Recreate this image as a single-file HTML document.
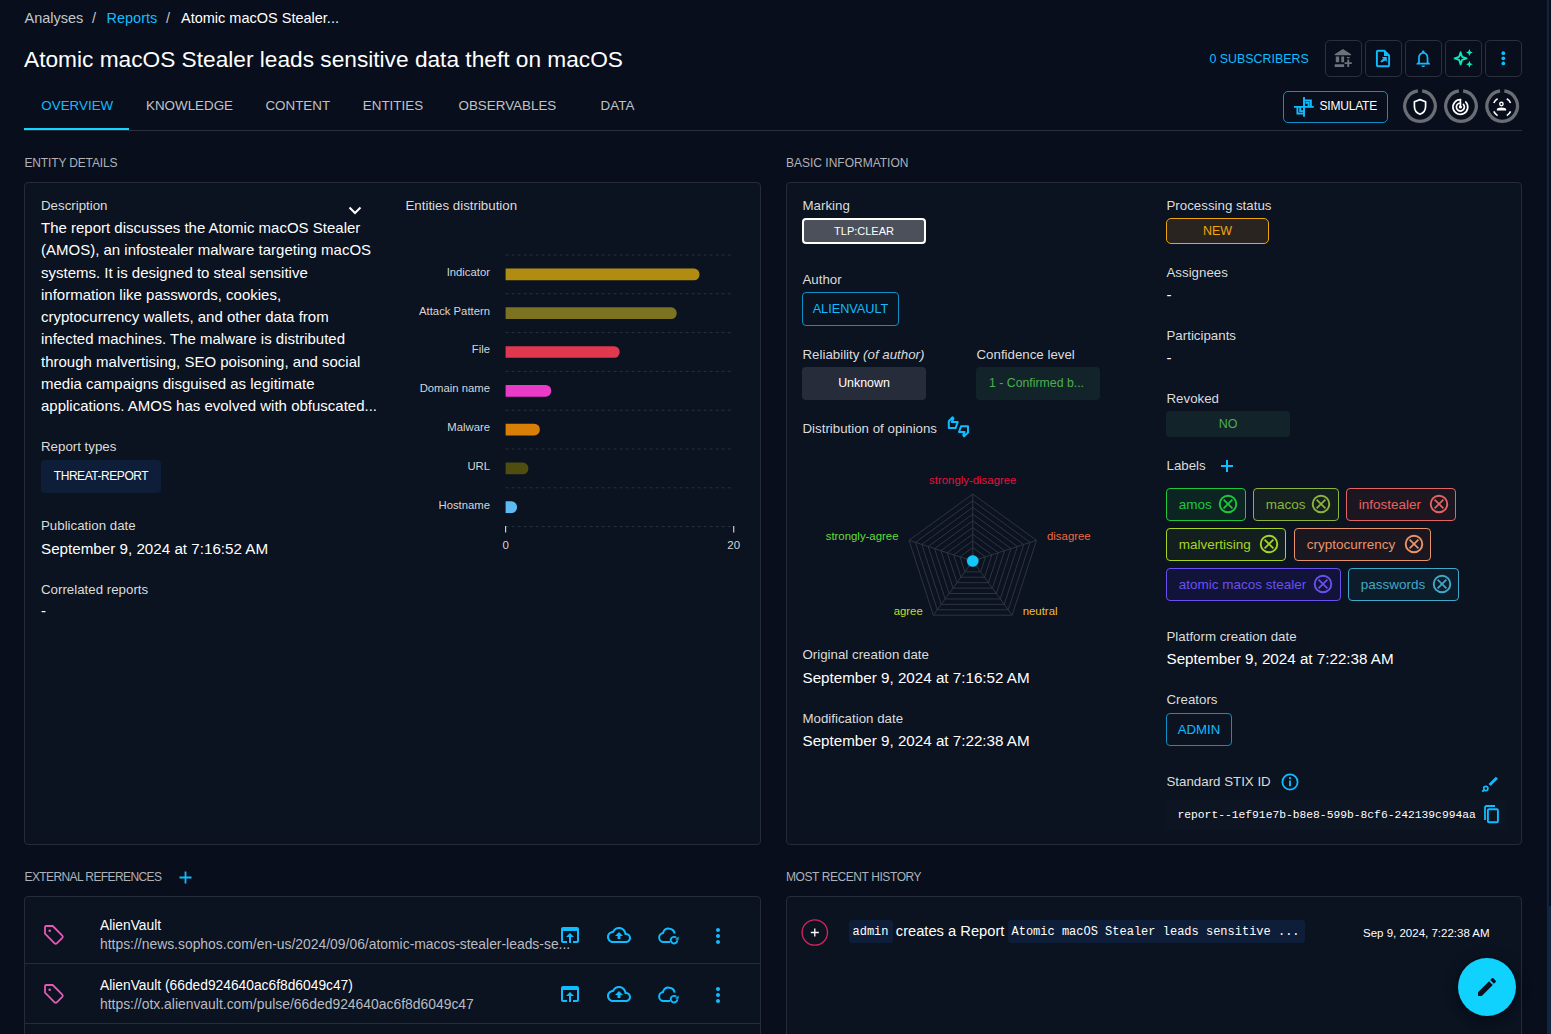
<!DOCTYPE html>
<html><head><meta charset="utf-8"><title>Atomic macOS Stealer leads sensitive data theft on macOS</title>
<style>
html,body{margin:0;padding:0;}
body{width:1551px;height:1034px;overflow:hidden;position:relative;background:#080e1b;font-family:'Liberation Sans', sans-serif;}
.t{position:absolute;white-space:nowrap;line-height:1;}
.b{position:absolute;}
svg.b{overflow:visible;}
</style></head><body>
<div class="t" style="left:24.50px;top:11.00px;font-size:14.5px;color:#c4c6cb;font-family:'Liberation Sans', sans-serif;">Analyses</div>
<div class="t" style="left:92.00px;top:11.00px;font-size:14.5px;color:#c4c6cb;font-family:'Liberation Sans', sans-serif;">/</div>
<div class="t" style="left:106.50px;top:11.00px;font-size:14.5px;color:#0fbcff;font-family:'Liberation Sans', sans-serif;">Reports</div>
<div class="t" style="left:166.00px;top:11.00px;font-size:14.5px;color:#c4c6cb;font-family:'Liberation Sans', sans-serif;">/</div>
<div class="t" style="left:181.00px;top:11.00px;font-size:14.5px;color:#ffffff;font-family:'Liberation Sans', sans-serif;">Atomic macOS Stealer...</div>
<div class="t" style="left:24.00px;top:48.00px;font-size:22.7px;color:#ffffff;font-family:'Liberation Sans', sans-serif;">Atomic macOS Stealer leads sensitive data theft on macOS</div>
<div class="t" style="left:41.30px;top:99.00px;font-size:13.4px;color:#0fbcff;font-family:'Liberation Sans', sans-serif;">OVERVIEW</div>
<div class="t" style="left:146.00px;top:99.00px;font-size:13.4px;color:#c0c3c8;font-family:'Liberation Sans', sans-serif;">KNOWLEDGE</div>
<div class="t" style="left:265.40px;top:99.00px;font-size:13.4px;color:#c0c3c8;font-family:'Liberation Sans', sans-serif;">CONTENT</div>
<div class="t" style="left:362.80px;top:99.00px;font-size:13.4px;color:#c0c3c8;font-family:'Liberation Sans', sans-serif;">ENTITIES</div>
<div class="t" style="left:458.50px;top:99.00px;font-size:13.4px;color:#c0c3c8;font-family:'Liberation Sans', sans-serif;">OBSERVABLES</div>
<div class="t" style="left:600.60px;top:99.00px;font-size:13.4px;color:#c0c3c8;font-family:'Liberation Sans', sans-serif;">DATA</div>
<div class="b" style="left:24px;top:130px;width:1498px;height:1px;background:#2a303c"></div>
<div class="b" style="left:24px;top:128px;width:105px;height:2px;background:#10d6ff"></div>
<div class="t" style="left:1209.50px;top:53.00px;font-size:12.4px;color:#0fbcff;font-family:'Liberation Sans', sans-serif;">0 SUBSCRIBERS</div>
<div class="b" style="left:1325px;top:40px;width:36.5px;height:36.5px;border:1px solid #2a303c;border-radius:5px;box-sizing:border-box"></div>
<div class="b" style="left:1365px;top:40px;width:36.5px;height:36.5px;border:1px solid #2a303c;border-radius:5px;box-sizing:border-box"></div>
<div class="b" style="left:1405px;top:40px;width:36.5px;height:36.5px;border:1px solid #2a303c;border-radius:5px;box-sizing:border-box"></div>
<div class="b" style="left:1445px;top:40px;width:36.5px;height:36.5px;border:1px solid #2a303c;border-radius:5px;box-sizing:border-box"></div>
<div class="b" style="left:1485px;top:40px;width:36.5px;height:36.5px;border:1px solid #2a303c;border-radius:5px;box-sizing:border-box"></div>
<svg class="b" style="left:0;top:0" width="1551" height="80"><path fill="#6e727b" d="M1342.9 48.9 1334.7 54.2V55.2H1351.1V54.2Z M1335.8 56.6h3.4v5.6h-3.4z M1341.3 56.6h2.8v5.6h-2.8z M1334.7 64.2h9.5v2.9h-9.5z M1346.9 56.9h2.8v1.3h-2.8z M1347.3 59.5h1.9v2.7h2.6v1.9h-2.6v2.8h-1.9v-2.8h-2.7v-1.9h2.7z"/><path fill="none" stroke="#0fbcff" stroke-width="1.9" stroke-linejoin="round" d="M1377.9 50.8H1384.6L1389.1 55.3V65.2A1 1 0 0 1 1388.1 66.2H1377.9A1 1 0 0 1 1376.9 65.2V51.8A1 1 0 0 1 1377.9 50.8Z"/><path fill="#0fbcff" d="M1384 50.5 1389.5 56H1384Z"/><path fill="#0fbcff" d="M1381.5 62.6 1380.3 61.4 1383.3 58.4 1381.8 56.9H1386.8V61.9L1385.3 60.4Z"/><g transform="translate(1413 48.3) scale(0.854)"><path fill="#0fbcff" d="M12 22c1.1 0 2-.9 2-2h-4c0 1.1.89 2 2 2zm6-6v-5c0-3.07-1.64-5.64-4.5-6.32V4c0-.83-.67-1.5-1.5-1.5s-1.5.67-1.5 1.5v.68C7.63 5.36 6 7.92 6 11v5l-2 2v1h16v-1l-2-2zm-2 1H8v-6c0-2.48 1.51-4.5 4-4.5s4 2.02 4 4.5v6z"/></g><path fill="none" stroke="#00f1bd" stroke-width="1.8" stroke-linejoin="round" d="M1460.6 52.2 1462.1 56.8 1466.6 58.3 1462.1 59.8 1460.6 64.4 1459.1 59.8 1454.6 58.3 1459.1 56.8Z"/><path fill="#00f1bd" d="M1469.4 48.9 1470.4 51.4 1472.8 52.4 1470.4 53.4 1469.4 55.9 1468.4 53.4 1466 52.4 1468.4 51.4Z M1469.4 60.8 1470.4 63.3 1472.8 64.3 1470.4 65.3 1469.4 67.8 1468.4 65.3 1466 64.3 1468.4 63.3Z"/><g fill="#0fbcff"><circle cx="1503.3" cy="53.2" r="1.85"/><circle cx="1503.3" cy="58.3" r="1.85"/><circle cx="1503.3" cy="63.4" r="1.85"/></g></svg>
<div class="b" style="left:1283px;top:91px;width:105px;height:31.5px;border:1px solid #0c8fc4;border-radius:5px;box-sizing:border-box"></div>
<svg class="b" style="left:1288px;top:92px;" width="32" height="30" viewBox="0 0 32 30"><g fill="none" stroke="#0fbcff" stroke-width="1.9"><path d="M16 5v19.8M6 14.9h19.8M16 8.4H22.9V14.9M17.4 10.7H20.6V14.9M9.4 14.9V21.5H16M12.2 14.9V19.1H16"/></g></svg>
<div class="t" style="left:1319.50px;top:100.00px;font-size:12px;color:#ffffff;font-family:'Liberation Sans', sans-serif;letter-spacing:-0.2px">SIMULATE</div>
<svg class="b" style="left:0;top:0" width="1551" height="140"><path d="M1422.13 90.85 A15.3 15.3 0 1 1 1417.87 90.85" fill="none" stroke="#6a6d74" stroke-width="3.3"/><path fill="none" stroke="#fff" stroke-width="1.7" stroke-linejoin="round" d="M1420 99.6 1425.6 101.8V106.3C1425.6 110 1423.2 113.2 1420 114.3 1416.8 113.2 1414.4 110 1414.4 106.3V101.8Z"/></svg>
<svg class="b" style="left:0;top:0" width="1551" height="140"><path d="M1463.13 90.85 A15.3 15.3 0 1 1 1458.87 90.85" fill="none" stroke="#6a6d74" stroke-width="3.3"/><g fill="none" stroke="#fff" stroke-width="1.7" stroke-linecap="round"><path d="M1460.4 99.6A7.4 7.4 0 1 0 1465.8 102"/><path d="M1460.4 103A4 4 0 1 0 1463.4 104.4"/><path d="M1460.4 107V99.6"/></g><circle cx="1460.4" cy="107" r="1.6" fill="#fff"/></svg>
<svg class="b" style="left:0;top:0" width="1551" height="140"><path d="M1504.33 90.85 A15.3 15.3 0 1 1 1500.07 90.85" fill="none" stroke="#6a6d74" stroke-width="3.3"/><g fill="none" stroke="#fff" stroke-width="1.6" stroke-linecap="butt"><path d="M1493.8 103A9 9 0 0 1 1497.6 98.8M1506.8 98.8A9 9 0 0 1 1510.6 103M1510.6 111.4A9 9 0 0 1 1506.8 115.6M1497.6 115.6A9 9 0 0 1 1493.8 111.4"/></g><circle cx="1501.4" cy="104" r="1.7" fill="none" stroke="#fff" stroke-width="1.4"/><path d="M1496.8 110.6h9.4v-1.2c0-1.3-1.6-2-4.7-2s-4.7.7-4.7 2z" fill="#fff"/></svg>
<div class="t" style="left:24.50px;top:157.00px;font-size:12px;color:#afb2b8;font-family:'Liberation Sans', sans-serif;letter-spacing:-0.15px">ENTITY DETAILS</div>
<div class="t" style="left:786.00px;top:157.00px;font-size:12px;color:#afb2b8;font-family:'Liberation Sans', sans-serif;">BASIC INFORMATION</div>
<div class="t" style="left:24.50px;top:871.00px;font-size:12px;color:#afb2b8;font-family:'Liberation Sans', sans-serif;letter-spacing:-0.6px">EXTERNAL REFERENCES</div>
<div class="t" style="left:786.00px;top:871.00px;font-size:12px;color:#afb2b8;font-family:'Liberation Sans', sans-serif;letter-spacing:-0.42px">MOST RECENT HISTORY</div>
<div class="b" style="left:24px;top:182px;width:737px;height:663px;background:#0b1220;border:1px solid #252b39;border-radius:4px;box-sizing:border-box"></div>
<div class="b" style="left:786px;top:182px;width:736px;height:663px;background:#0b1220;border:1px solid #252b39;border-radius:4px;box-sizing:border-box"></div>
<div class="b" style="left:24px;top:896px;width:737px;height:160px;background:#0b1220;border:1px solid #252b39;border-radius:4px;box-sizing:border-box"></div>
<div class="b" style="left:786px;top:896px;width:736px;height:160px;background:#0b1220;border:1px solid #252b39;border-radius:4px;box-sizing:border-box"></div>
<div class="t" style="left:41.00px;top:199.00px;font-size:13.3px;color:#dcdcdc;font-family:'Liberation Sans', sans-serif;">Description</div>
<svg class="b" style="left:345px;top:200px;" width="20" height="20" viewBox="0 0 20 20"><path d="M4.5 7.5 10 13l5.5-5.5" fill="none" stroke="#fff" stroke-width="2"/></svg>
<div class="t" style="left:41.00px;top:220.00px;font-size:15px;color:#ffffff;font-family:'Liberation Sans', sans-serif;">The report discusses the Atomic macOS Stealer</div>
<div class="t" style="left:41.00px;top:242.00px;font-size:15px;color:#ffffff;font-family:'Liberation Sans', sans-serif;">(AMOS), an infostealer malware targeting macOS</div>
<div class="t" style="left:41.00px;top:265.00px;font-size:15px;color:#ffffff;font-family:'Liberation Sans', sans-serif;">systems. It is designed to steal sensitive</div>
<div class="t" style="left:41.00px;top:287.00px;font-size:15px;color:#ffffff;font-family:'Liberation Sans', sans-serif;">information like passwords, cookies,</div>
<div class="t" style="left:41.00px;top:309.00px;font-size:15px;color:#ffffff;font-family:'Liberation Sans', sans-serif;">cryptocurrency wallets, and other data from</div>
<div class="t" style="left:41.00px;top:331.00px;font-size:15px;color:#ffffff;font-family:'Liberation Sans', sans-serif;">infected machines. The malware is distributed</div>
<div class="t" style="left:41.00px;top:354.00px;font-size:15px;color:#ffffff;font-family:'Liberation Sans', sans-serif;">through malvertising, SEO poisoning, and social</div>
<div class="t" style="left:41.00px;top:376.00px;font-size:15px;color:#ffffff;font-family:'Liberation Sans', sans-serif;">media campaigns disguised as legitimate</div>
<div class="t" style="left:41.00px;top:398.00px;font-size:15px;color:#ffffff;font-family:'Liberation Sans', sans-serif;">applications. AMOS has evolved with obfuscated...</div>
<div class="t" style="left:41.00px;top:440.00px;font-size:13.3px;color:#dcdcdc;font-family:'Liberation Sans', sans-serif;">Report types</div>
<div class="b" style="left:41px;top:460px;width:120px;height:33px;background:#0f1e38;border-radius:4px"></div>
<div class="t" style="left:101.00px;transform:translateX(-50%);top:470.00px;font-size:12px;color:#ffffff;font-family:'Liberation Sans', sans-serif;letter-spacing:-0.45px">THREAT-REPORT</div>
<div class="t" style="left:41.00px;top:519.00px;font-size:13.3px;color:#dcdcdc;font-family:'Liberation Sans', sans-serif;">Publication date</div>
<div class="t" style="left:41.00px;top:541.00px;font-size:15.2px;color:#ffffff;font-family:'Liberation Sans', sans-serif;">September 9, 2024 at 7:16:52 AM</div>
<div class="t" style="left:41.00px;top:583.00px;font-size:13.3px;color:#dcdcdc;font-family:'Liberation Sans', sans-serif;">Correlated reports</div>
<div class="t" style="left:41.00px;top:603.00px;font-size:15px;color:#ffffff;font-family:'Liberation Sans', sans-serif;">-</div>
<div class="t" style="left:405.50px;top:199.00px;font-size:13.3px;color:#dcdcdc;font-family:'Liberation Sans', sans-serif;">Entities distribution</div>
<svg class="b" style="left:0;top:0" width="800" height="600"><line x1="505.6" y1="255.0" x2="732" y2="255.0" stroke="#2b313d" stroke-width="1" stroke-dasharray="3 3"/><line x1="505.6" y1="293.8" x2="732" y2="293.8" stroke="#2b313d" stroke-width="1" stroke-dasharray="3 3"/><line x1="505.6" y1="332.6" x2="732" y2="332.6" stroke="#2b313d" stroke-width="1" stroke-dasharray="3 3"/><line x1="505.6" y1="371.4" x2="732" y2="371.4" stroke="#2b313d" stroke-width="1" stroke-dasharray="3 3"/><line x1="505.6" y1="410.2" x2="732" y2="410.2" stroke="#2b313d" stroke-width="1" stroke-dasharray="3 3"/><line x1="505.6" y1="449.0" x2="732" y2="449.0" stroke="#2b313d" stroke-width="1" stroke-dasharray="3 3"/><line x1="505.6" y1="487.8" x2="732" y2="487.8" stroke="#2b313d" stroke-width="1" stroke-dasharray="3 3"/><line x1="505.6" y1="526.6" x2="732" y2="526.6" stroke="#2b313d" stroke-width="1" stroke-dasharray="3 3"/><path d="M505.6 268.55H693.99A5.5 5.5 0 0 1 699.49 274.05V274.75A5.5 5.5 0 0 1 693.99 280.25H505.6Z" fill="#b08d10"/><path d="M505.6 307.35H671.18A5.5 5.5 0 0 1 676.68 312.85V313.55A5.5 5.5 0 0 1 671.18 319.05H505.6Z" fill="#7d721f"/><path d="M505.6 346.15H614.15A5.5 5.5 0 0 1 619.65 351.65V352.35A5.5 5.5 0 0 1 614.15 357.85H505.6Z" fill="#e0394f"/><path d="M505.6 384.95H545.72A5.5 5.5 0 0 1 551.22 390.45V391.15A5.5 5.5 0 0 1 545.72 396.65H505.6Z" fill="#e93ac8"/><path d="M505.6 423.75H534.32A5.5 5.5 0 0 1 539.82 429.25V429.95A5.5 5.5 0 0 1 534.32 435.45H505.6Z" fill="#d97f08"/><path d="M505.6 462.55H522.91A5.5 5.5 0 0 1 528.41 468.05V468.75A5.5 5.5 0 0 1 522.91 474.25H505.6Z" fill="#4f4d0f"/><path d="M505.6 501.35H511.50A5.5 5.5 0 0 1 517.00 506.85V507.55A5.5 5.5 0 0 1 511.50 513.05H505.6Z" fill="#5cbcf2"/><line x1="505.6" y1="526" x2="505.6" y2="532.5" stroke="#ccc" stroke-width="1.2"/><line x1="733.7" y1="526" x2="733.7" y2="532.5" stroke="#ccc" stroke-width="1.2"/></svg>
<div class="t" style="left:490.00px;transform:translateX(-100%);top:267.00px;font-size:11.3px;color:#d4d6da;font-family:'Liberation Sans', sans-serif;">Indicator</div>
<div class="t" style="left:490.00px;transform:translateX(-100%);top:306.00px;font-size:11.3px;color:#d4d6da;font-family:'Liberation Sans', sans-serif;">Attack Pattern</div>
<div class="t" style="left:490.00px;transform:translateX(-100%);top:344.00px;font-size:11.3px;color:#d4d6da;font-family:'Liberation Sans', sans-serif;">File</div>
<div class="t" style="left:490.00px;transform:translateX(-100%);top:383.00px;font-size:11.3px;color:#d4d6da;font-family:'Liberation Sans', sans-serif;">Domain name</div>
<div class="t" style="left:490.00px;transform:translateX(-100%);top:422.00px;font-size:11.3px;color:#d4d6da;font-family:'Liberation Sans', sans-serif;">Malware</div>
<div class="t" style="left:490.00px;transform:translateX(-100%);top:461.00px;font-size:11.3px;color:#d4d6da;font-family:'Liberation Sans', sans-serif;">URL</div>
<div class="t" style="left:490.00px;transform:translateX(-100%);top:500.00px;font-size:11.3px;color:#d4d6da;font-family:'Liberation Sans', sans-serif;">Hostname</div>
<div class="t" style="left:505.60px;transform:translateX(-50%);top:540.00px;font-size:11.5px;color:#d4d6da;font-family:'Liberation Sans', sans-serif;">0</div>
<div class="t" style="left:733.70px;transform:translateX(-50%);top:540.00px;font-size:11.5px;color:#d4d6da;font-family:'Liberation Sans', sans-serif;">20</div>
<div class="t" style="left:802.50px;top:199.00px;font-size:13.3px;color:#dcdcdc;font-family:'Liberation Sans', sans-serif;">Marking</div>
<div class="b" style="left:802px;top:218px;width:124px;height:26px;background:#4b505b;border:2px solid #fff;border-radius:4px;box-sizing:border-box"></div>
<div class="t" style="left:864.00px;transform:translateX(-50%);top:226.00px;font-size:11px;color:#ffffff;font-family:'Liberation Sans', sans-serif;">TLP:CLEAR</div>
<div class="t" style="left:802.50px;top:273.00px;font-size:13.3px;color:#dcdcdc;font-family:'Liberation Sans', sans-serif;">Author</div>
<div class="b" style="left:802px;top:292px;width:97px;height:33.5px;border:1px solid #0c8fc4;border-radius:4px;box-sizing:border-box"></div>
<div class="t" style="left:850.50px;transform:translateX(-50%);top:303.00px;font-size:12.7px;color:#0fbcff;font-family:'Liberation Sans', sans-serif;">ALIENVAULT</div>
<div class="t" style="left:802.50px;top:348.00px;font-size:13.3px;color:#dcdcdc;font-family:'Liberation Sans', sans-serif;">Reliability <i>(of author)</i></div>
<div class="t" style="left:976.50px;top:348.00px;font-size:13.3px;color:#dcdcdc;font-family:'Liberation Sans', sans-serif;">Confidence level</div>
<div class="b" style="left:802px;top:367px;width:124px;height:33px;background:#272c3a;border-radius:4px"></div>
<div class="t" style="left:864.00px;transform:translateX(-50%);top:377.00px;font-size:12.4px;color:#ffffff;font-family:'Liberation Sans', sans-serif;">Unknown</div>
<div class="b" style="left:976px;top:367px;width:124px;height:33px;background:#13232a;border-radius:4px"></div>
<div class="t" style="left:1036.50px;transform:translateX(-50%);top:377.00px;font-size:12.3px;color:#4caf50;font-family:'Liberation Sans', sans-serif;">1 - Confirmed b...</div>
<div class="t" style="left:802.50px;top:422.00px;font-size:13.3px;color:#dcdcdc;font-family:'Liberation Sans', sans-serif;">Distribution of opinions</div>
<svg class="b" style="left:942px;top:412px;" width="32" height="30" viewBox="0 0 32 30"><g fill="none" stroke="#0fbcff" stroke-width="2" stroke-linejoin="round"><path d="M6.8 16.1V9.3L10.6 5.2 11.5 6.5 9.8 10H15.7L13.6 16.1Z"/><path d="M26 14.2V20.5L22 24.4 21.2 23 22.6 20H17L19.1 14.2Z"/></g></svg>
<svg class="b" style="left:0;top:0" width="1200" height="700"><polygon points="972.75,554.30 979.12,558.93 976.69,566.42 968.81,566.42 966.38,558.93" fill="none" stroke="#2e3440" stroke-width="1"/><polygon points="972.75,547.60 985.49,556.86 980.63,571.84 964.87,571.84 960.01,556.86" fill="none" stroke="#2e3440" stroke-width="1"/><polygon points="972.75,540.90 991.87,554.79 984.56,577.26 960.94,577.26 953.63,554.79" fill="none" stroke="#2e3440" stroke-width="1"/><polygon points="972.75,534.20 998.24,552.72 988.50,582.68 957.00,582.68 947.26,552.72" fill="none" stroke="#2e3440" stroke-width="1"/><polygon points="972.75,527.50 1004.61,550.65 992.44,588.10 953.06,588.10 940.89,550.65" fill="none" stroke="#2e3440" stroke-width="1"/><polygon points="972.75,520.80 1010.98,548.58 996.38,593.52 949.12,593.52 934.52,548.58" fill="none" stroke="#2e3440" stroke-width="1"/><polygon points="972.75,514.10 1017.35,546.51 1000.32,598.94 945.18,598.94 928.15,546.51" fill="none" stroke="#2e3440" stroke-width="1"/><polygon points="972.75,507.40 1023.73,544.44 1004.26,604.36 941.24,604.36 921.77,544.44" fill="none" stroke="#2e3440" stroke-width="1"/><polygon points="972.75,500.70 1030.10,542.37 1008.19,609.78 937.31,609.78 915.40,542.37" fill="none" stroke="#2e3440" stroke-width="1"/><polygon points="972.75,494.00 1036.47,540.30 1012.13,615.20 933.37,615.20 909.03,540.30" fill="none" stroke="#2e3440" stroke-width="1"/><line x1="972.75" y1="561" x2="972.75" y2="494.00" stroke="#2e3440" stroke-width="1"/><line x1="972.75" y1="561" x2="1036.47" y2="540.30" stroke="#2e3440" stroke-width="1"/><line x1="972.75" y1="561" x2="1012.13" y2="615.20" stroke="#2e3440" stroke-width="1"/><line x1="972.75" y1="561" x2="933.37" y2="615.20" stroke="#2e3440" stroke-width="1"/><line x1="972.75" y1="561" x2="909.03" y2="540.30" stroke="#2e3440" stroke-width="1"/><circle cx="972.75" cy="561" r="5.8" fill="#12c8fa"/></svg>
<div class="t" style="left:972.75px;transform:translateX(-50%);top:475.00px;font-size:11.4px;color:#e8103c;font-family:'Liberation Sans', sans-serif;">strongly-disagree</div>
<div class="t" style="left:898.50px;transform:translateX(-100%);top:531.00px;font-size:11.4px;color:#62de38;font-family:'Liberation Sans', sans-serif;">strongly-agree</div>
<div class="t" style="left:1047.00px;top:531.00px;font-size:11.4px;color:#f06a3c;font-family:'Liberation Sans', sans-serif;">disagree</div>
<div class="t" style="left:922.80px;transform:translateX(-100%);top:606.00px;font-size:11.4px;color:#c4dc2e;font-family:'Liberation Sans', sans-serif;">agree</div>
<div class="t" style="left:1022.70px;top:606.00px;font-size:11.4px;color:#efbf30;font-family:'Liberation Sans', sans-serif;">neutral</div>
<div class="t" style="left:802.50px;top:648.00px;font-size:13.3px;color:#dcdcdc;font-family:'Liberation Sans', sans-serif;">Original creation date</div>
<div class="t" style="left:802.50px;top:670.00px;font-size:15.2px;color:#ffffff;font-family:'Liberation Sans', sans-serif;">September 9, 2024 at 7:16:52 AM</div>
<div class="t" style="left:802.50px;top:712.00px;font-size:13.3px;color:#dcdcdc;font-family:'Liberation Sans', sans-serif;">Modification date</div>
<div class="t" style="left:802.50px;top:733.00px;font-size:15.2px;color:#ffffff;font-family:'Liberation Sans', sans-serif;">September 9, 2024 at 7:22:38 AM</div>
<div class="t" style="left:1166.50px;top:199.00px;font-size:13.3px;color:#dcdcdc;font-family:'Liberation Sans', sans-serif;">Processing status</div>
<div class="b" style="left:1166px;top:218px;width:103px;height:25.5px;background:#29241f;border:1.6px solid #f0a30a;border-radius:5px;box-sizing:border-box"></div>
<div class="t" style="left:1217.50px;transform:translateX(-50%);top:225.00px;font-size:12.5px;color:#f5a30f;font-family:'Liberation Sans', sans-serif;">NEW</div>
<div class="t" style="left:1166.50px;top:266.00px;font-size:13.3px;color:#dcdcdc;font-family:'Liberation Sans', sans-serif;">Assignees</div>
<div class="t" style="left:1166.50px;top:287.00px;font-size:15px;color:#ffffff;font-family:'Liberation Sans', sans-serif;">-</div>
<div class="t" style="left:1166.50px;top:329.00px;font-size:13.3px;color:#dcdcdc;font-family:'Liberation Sans', sans-serif;">Participants</div>
<div class="t" style="left:1166.50px;top:350.00px;font-size:15px;color:#ffffff;font-family:'Liberation Sans', sans-serif;">-</div>
<div class="t" style="left:1166.50px;top:392.00px;font-size:13.3px;color:#dcdcdc;font-family:'Liberation Sans', sans-serif;">Revoked</div>
<div class="b" style="left:1166px;top:411px;width:124px;height:25.5px;background:#13232a;border-radius:4px"></div>
<div class="t" style="left:1228.00px;transform:translateX(-50%);top:418.00px;font-size:12.5px;color:#4caf50;font-family:'Liberation Sans', sans-serif;">NO</div>
<div class="t" style="left:1166.50px;top:459.00px;font-size:13.3px;color:#dcdcdc;font-family:'Liberation Sans', sans-serif;">Labels</div>
<svg class="b" style="left:1219.5px;top:458.5px;" width="14" height="14" viewBox="0 0 14 14"><path d="M7 1v12M1 7h12" stroke="#0fbcff" stroke-width="2"/></svg>
<div class="b" style="left:1166px;top:488px;width:79.5px;height:33px;background:#0d2522;border:1px solid #1ec83c;border-radius:4px;box-sizing:border-box"></div>
<div class="t" style="left:1178.80px;top:498.00px;font-size:13.5px;color:#1ec83c;font-family:'Liberation Sans', sans-serif;">amos</div>
<svg class="b" style="left:1217.3px;top:493.2px;" width="22" height="22" viewBox="0 0 22 22"><circle cx="11" cy="11" r="8.3" fill="none" stroke="#1ec83c" stroke-width="1.9"/><path d="M6.6 6.6 15.4 15.4M15.4 6.6 6.6 15.4" stroke="#1ec83c" stroke-width="1.7"/></svg>
<div class="b" style="left:1253px;top:488px;width:85.5px;height:33px;background:#141f20;border:1px solid #8db43c;border-radius:4px;box-sizing:border-box"></div>
<div class="t" style="left:1265.80px;top:498.00px;font-size:13.5px;color:#8db43c;font-family:'Liberation Sans', sans-serif;">macos</div>
<svg class="b" style="left:1310.3px;top:493.2px;" width="22" height="22" viewBox="0 0 22 22"><circle cx="11" cy="11" r="8.3" fill="none" stroke="#8db43c" stroke-width="1.9"/><path d="M6.6 6.6 15.4 15.4M15.4 6.6 6.6 15.4" stroke="#8db43c" stroke-width="1.7"/></svg>
<div class="b" style="left:1346px;top:488px;width:110px;height:33px;background:#1c1620;border:1px solid #e36464;border-radius:4px;box-sizing:border-box"></div>
<div class="t" style="left:1358.80px;top:498.00px;font-size:13.5px;color:#e36464;font-family:'Liberation Sans', sans-serif;">infostealer</div>
<svg class="b" style="left:1427.8px;top:493.2px;" width="22" height="22" viewBox="0 0 22 22"><circle cx="11" cy="11" r="8.3" fill="none" stroke="#e36464" stroke-width="1.9"/><path d="M6.6 6.6 15.4 15.4M15.4 6.6 6.6 15.4" stroke="#e36464" stroke-width="1.7"/></svg>
<div class="b" style="left:1166px;top:528px;width:120px;height:33px;background:#131f1e;border:1px solid #a8d424;border-radius:4px;box-sizing:border-box"></div>
<div class="t" style="left:1178.80px;top:538.00px;font-size:13.5px;color:#a8d424;font-family:'Liberation Sans', sans-serif;">malvertising</div>
<svg class="b" style="left:1257.8px;top:533.2px;" width="22" height="22" viewBox="0 0 22 22"><circle cx="11" cy="11" r="8.3" fill="none" stroke="#a8d424" stroke-width="1.9"/><path d="M6.6 6.6 15.4 15.4M15.4 6.6 6.6 15.4" stroke="#a8d424" stroke-width="1.7"/></svg>
<div class="b" style="left:1294px;top:528px;width:137px;height:33px;background:#1a1720;border:1px solid #e8946a;border-radius:4px;box-sizing:border-box"></div>
<div class="t" style="left:1306.80px;top:538.00px;font-size:13.5px;color:#e8946a;font-family:'Liberation Sans', sans-serif;">cryptocurrency</div>
<svg class="b" style="left:1402.8px;top:533.2px;" width="22" height="22" viewBox="0 0 22 22"><circle cx="11" cy="11" r="8.3" fill="none" stroke="#e8946a" stroke-width="1.9"/><path d="M6.6 6.6 15.4 15.4M15.4 6.6 6.6 15.4" stroke="#e8946a" stroke-width="1.7"/></svg>
<div class="b" style="left:1166px;top:568px;width:174.5px;height:33px;background:#111438;border:1px solid #6b4ff0;border-radius:4px;box-sizing:border-box"></div>
<div class="t" style="left:1178.80px;top:578.00px;font-size:13.5px;color:#6b4ff0;font-family:'Liberation Sans', sans-serif;">atomic macos stealer</div>
<svg class="b" style="left:1312.3px;top:573.2px;" width="22" height="22" viewBox="0 0 22 22"><circle cx="11" cy="11" r="8.3" fill="none" stroke="#6b4ff0" stroke-width="1.9"/><path d="M6.6 6.6 15.4 15.4M15.4 6.6 6.6 15.4" stroke="#6b4ff0" stroke-width="1.7"/></svg>
<div class="b" style="left:1348px;top:568px;width:111px;height:33px;background:#0c1c2a;border:1px solid #42a8c8;border-radius:4px;box-sizing:border-box"></div>
<div class="t" style="left:1360.80px;top:578.00px;font-size:13.5px;color:#42a8c8;font-family:'Liberation Sans', sans-serif;">passwords</div>
<svg class="b" style="left:1430.8px;top:573.2px;" width="22" height="22" viewBox="0 0 22 22"><circle cx="11" cy="11" r="8.3" fill="none" stroke="#42a8c8" stroke-width="1.9"/><path d="M6.6 6.6 15.4 15.4M15.4 6.6 6.6 15.4" stroke="#42a8c8" stroke-width="1.7"/></svg>
<div class="t" style="left:1166.50px;top:630.00px;font-size:13.3px;color:#dcdcdc;font-family:'Liberation Sans', sans-serif;">Platform creation date</div>
<div class="t" style="left:1166.50px;top:651.00px;font-size:15.2px;color:#ffffff;font-family:'Liberation Sans', sans-serif;">September 9, 2024 at 7:22:38 AM</div>
<div class="t" style="left:1166.50px;top:693.00px;font-size:13.3px;color:#dcdcdc;font-family:'Liberation Sans', sans-serif;">Creators</div>
<div class="b" style="left:1166px;top:713px;width:66px;height:33px;border:1px solid #0c8fc4;border-radius:4px;box-sizing:border-box"></div>
<div class="t" style="left:1199.00px;transform:translateX(-50%);top:723.00px;font-size:13.2px;color:#0fbcff;font-family:'Liberation Sans', sans-serif;">ADMIN</div>
<div class="t" style="left:1166.50px;top:775.00px;font-size:13.3px;color:#dcdcdc;font-family:'Liberation Sans', sans-serif;">Standard STIX ID</div>
<svg class="b" style="left:1280px;top:772px;" width="20" height="20" viewBox="0 0 20 20"><circle cx="10" cy="10" r="7.6" fill="none" stroke="#0fbcff" stroke-width="1.8"/><path d="M10 8.6v5.6" stroke="#0fbcff" stroke-width="1.9"/><circle cx="10" cy="6.2" r="1.1" fill="#0fbcff"/></svg>
<svg class="b" style="left:0;top:0" width="1551" height="840"><path d="M1496.9 777.7 1489.6 785" stroke="#0fbcff" stroke-width="2.9"/><circle cx="1485.8" cy="788.5" r="2.1" fill="none" stroke="#0fbcff" stroke-width="1.7"/><path d="M1484 790.3 1481.9 790.9 1483.6 791.6Z" fill="#0fbcff" stroke="#0fbcff" stroke-width="1"/></svg>
<div class="b" style="left:1166px;top:800px;width:340px;height:29px;background:#0d1422;border-radius:2px"></div>
<div class="t" style="left:1177.50px;top:810.00px;font-size:11.3px;color:#ffffff;font-family:'Liberation Mono', monospace;">report--1ef91e7b-b8e8-599b-8cf6-242139c994aa</div>
<svg class="b" style="left:1481.5px;top:804px;" width="18" height="20" viewBox="0 0 18 20"><path d="M3 16V3.5A1.5 1.5 0 0 1 4.5 2H13" fill="none" stroke="#0fbcff" stroke-width="1.8"/><rect x="5.9" y="5.2" width="10" height="13" rx="1" fill="none" stroke="#0fbcff" stroke-width="1.9"/></svg>
<svg class="b" style="left:179px;top:871px;" width="13" height="13" viewBox="0 0 13 13"><path d="M6.5 0.5v12M0.5 6.5h12" stroke="#0fbcff" stroke-width="1.8"/></svg>
<svg class="b" style="left:42px;top:923px;" width="24" height="24" viewBox="0 0 24 24"><path d="M3 4.3A1.3 1.3 0 0 1 4.3 3h6.4l9.6 9.6a1.6 1.6 0 0 1 0 2.2l-5.5 5.5a1.6 1.6 0 0 1-2.2 0L3 10.7z" fill="none" stroke="#e25cb4" stroke-width="1.8" stroke-linejoin="round"/><circle cx="7.7" cy="7.7" r="1.3" fill="#e25cb4"/></svg>
<div class="t" style="left:100.00px;top:919.00px;font-size:13.8px;color:#ffffff;font-family:'Liberation Sans', sans-serif;">AlienVault</div>
<div class="t" style="left:100.00px;top:938.00px;font-size:13.9px;color:#b9bcc2;font-family:'Liberation Sans', sans-serif;">https://news.sophos.com/en-us/2024/09/06/atomic-macos-stealer-leads-se...</div>
<svg class="b" style="left:558px;top:923px;" width="24" height="24" viewBox="0 0 24 24"><path fill="#0fbcff" d="M19 4H5c-1.11 0-2 .9-2 2v12c0 1.1.89 2 2 2h4v-2H5V8h14v10h-4v2h4c1.1 0 2-.9 2-2V6c0-1.1-.89-2-2-2zm-7 6-4 4h3v6h2v-6h3l-4-4z"/></svg>
<svg class="b" style="left:607px;top:923px;" width="25" height="24" viewBox="0 0 25 24"><path fill="#0fbcff" d="M19.35 10.04C18.67 6.59 15.64 4 12 4 9.11 4 6.6 5.64 5.35 8.04 2.34 8.36 0 10.91 0 14c0 3.31 2.69 6 6 6h13c2.76 0 5-2.24 5-5 0-2.64-2.05-4.78-4.65-4.96zM19 18H6c-2.21 0-4-1.79-4-4 0-2.05 1.53-3.76 3.56-3.97l1.07-.11.5-.95C8.08 7.14 9.94 6 12 6c2.62 0 4.88 1.86 5.39 4.43l.3 1.5 1.53.11c1.56.1 2.78 1.41 2.78 2.96 0 1.65-1.35 3-3 3zM8 13h2.55v3h2.9v-3H16l-4-4z"/></svg>
<svg class="b" style="left:657px;top:923px;" width="25" height="24" viewBox="0 0 25 24"><path fill="none" stroke="#0fbcff" stroke-width="2" d="M13 19H6.5A4.5 4.5 0 0 1 6 10.05 6 6 0 0 1 17.7 10.6"/><path fill="none" stroke="#0fbcff" stroke-width="1.9" d="M20.3 17.2a3.3 3.3 0 1 1-1-2.4"/><path fill="#0fbcff" d="M21.6 13.4v3.4h-3.4z"/></svg>
<svg class="b" style="left:706px;top:923.8px;" width="24" height="24" viewBox="0 0 24 24"><path fill="#0fbcff" d="M12 8c1.1 0 2-.9 2-2s-.9-2-2-2-2 .9-2 2 .9 2 2 2zm0 2c-1.1 0-2 .9-2 2s.9 2 2 2 2-.9 2-2-.9-2-2-2zm0 6c-1.1 0-2 .9-2 2s.9 2 2 2 2-.9 2-2-.9-2-2-2z"/></svg>
<svg class="b" style="left:42px;top:982px;" width="24" height="24" viewBox="0 0 24 24"><path d="M3 4.3A1.3 1.3 0 0 1 4.3 3h6.4l9.6 9.6a1.6 1.6 0 0 1 0 2.2l-5.5 5.5a1.6 1.6 0 0 1-2.2 0L3 10.7z" fill="none" stroke="#e25cb4" stroke-width="1.8" stroke-linejoin="round"/><circle cx="7.7" cy="7.7" r="1.3" fill="#e25cb4"/></svg>
<div class="t" style="left:100.00px;top:979.00px;font-size:13.8px;color:#ffffff;font-family:'Liberation Sans', sans-serif;">AlienVault (66ded924640ac6f8d6049c47)</div>
<div class="t" style="left:100.00px;top:998.00px;font-size:13.9px;color:#b9bcc2;font-family:'Liberation Sans', sans-serif;">https://otx.alienvault.com/pulse/66ded924640ac6f8d6049c47</div>
<svg class="b" style="left:558px;top:982px;" width="24" height="24" viewBox="0 0 24 24"><path fill="#0fbcff" d="M19 4H5c-1.11 0-2 .9-2 2v12c0 1.1.89 2 2 2h4v-2H5V8h14v10h-4v2h4c1.1 0 2-.9 2-2V6c0-1.1-.89-2-2-2zm-7 6-4 4h3v6h2v-6h3l-4-4z"/></svg>
<svg class="b" style="left:607px;top:982px;" width="25" height="24" viewBox="0 0 25 24"><path fill="#0fbcff" d="M19.35 10.04C18.67 6.59 15.64 4 12 4 9.11 4 6.6 5.64 5.35 8.04 2.34 8.36 0 10.91 0 14c0 3.31 2.69 6 6 6h13c2.76 0 5-2.24 5-5 0-2.64-2.05-4.78-4.65-4.96zM19 18H6c-2.21 0-4-1.79-4-4 0-2.05 1.53-3.76 3.56-3.97l1.07-.11.5-.95C8.08 7.14 9.94 6 12 6c2.62 0 4.88 1.86 5.39 4.43l.3 1.5 1.53.11c1.56.1 2.78 1.41 2.78 2.96 0 1.65-1.35 3-3 3zM8 13h2.55v3h2.9v-3H16l-4-4z"/></svg>
<svg class="b" style="left:657px;top:982px;" width="25" height="24" viewBox="0 0 25 24"><path fill="none" stroke="#0fbcff" stroke-width="2" d="M13 19H6.5A4.5 4.5 0 0 1 6 10.05 6 6 0 0 1 17.7 10.6"/><path fill="none" stroke="#0fbcff" stroke-width="1.9" d="M20.3 17.2a3.3 3.3 0 1 1-1-2.4"/><path fill="#0fbcff" d="M21.6 13.4v3.4h-3.4z"/></svg>
<svg class="b" style="left:706px;top:982.8px;" width="24" height="24" viewBox="0 0 24 24"><path fill="#0fbcff" d="M12 8c1.1 0 2-.9 2-2s-.9-2-2-2-2 .9-2 2 .9 2 2 2zm0 2c-1.1 0-2 .9-2 2s.9 2 2 2 2-.9 2-2-.9-2-2-2zm0 6c-1.1 0-2 .9-2 2s.9 2 2 2 2-.9 2-2-.9-2-2-2z"/></svg>
<div class="b" style="left:25px;top:963px;width:735px;height:1px;background:#252b39"></div>
<div class="b" style="left:25px;top:1023px;width:735px;height:1px;background:#252b39"></div>
<svg class="b" style="left:800px;top:918px;" width="30" height="30" viewBox="0 0 30 30"><circle cx="14.8" cy="14.5" r="12.7" fill="none" stroke="#d3255d" stroke-width="1.3"/><path d="M14.8 10.5v8M10.8 14.5h8" stroke="#fff" stroke-width="1.3"/></svg>
<div class="b" style="left:848.5px;top:920px;width:44px;height:22.5px;background:#0f1e38;border-radius:3px"></div>
<div class="t" style="left:852.50px;top:926.00px;font-size:12px;color:#ffffff;font-family:'Liberation Mono', monospace;">admin</div>
<div class="t" style="left:895.80px;top:924.00px;font-size:14.7px;color:#ffffff;font-family:'Liberation Sans', sans-serif;">creates a Report</div>
<div class="b" style="left:1007.5px;top:920px;width:297.5px;height:22.5px;background:#0f1e38;border-radius:3px"></div>
<div class="t" style="left:1011.50px;top:926.00px;font-size:12px;color:#ffffff;font-family:'Liberation Mono', monospace;">Atomic macOS Stealer leads sensitive ...</div>
<div class="t" style="left:1363.00px;top:928.00px;font-size:11.5px;color:#ffffff;font-family:'Liberation Sans', sans-serif;">Sep 9, 2024, 7:22:38 AM</div>
<div class="b" style="left:1458px;top:958px;width:58px;height:58px;background:#10d2ff;border-radius:50%;box-shadow:0 3px 5px -1px rgba(0,0,0,.2),0 6px 10px 0 rgba(0,0,0,.14),0 1px 18px 0 rgba(0,0,0,.12)"></div>
<svg class="b" style="left:1475px;top:975px;" width="24" height="24" viewBox="0 0 24 24"><path fill="#0b1220" d="M3 17.25V21h3.75L17.81 9.94l-3.75-3.75L3 17.25zM20.71 7.04c.39-.39.39-1.02 0-1.41l-2.34-2.34a.9959.9959 0 0 0-1.41 0l-1.83 1.83 3.75 3.75 1.83-1.83z"/></svg>
<div class="b" style="left:1547px;top:0px;width:2.3px;height:1034px;background:#13243f"></div>
<div class="b" style="left:1549.3px;top:906px;width:1.7px;height:128px;background:#13243f"></div>
</body></html>
